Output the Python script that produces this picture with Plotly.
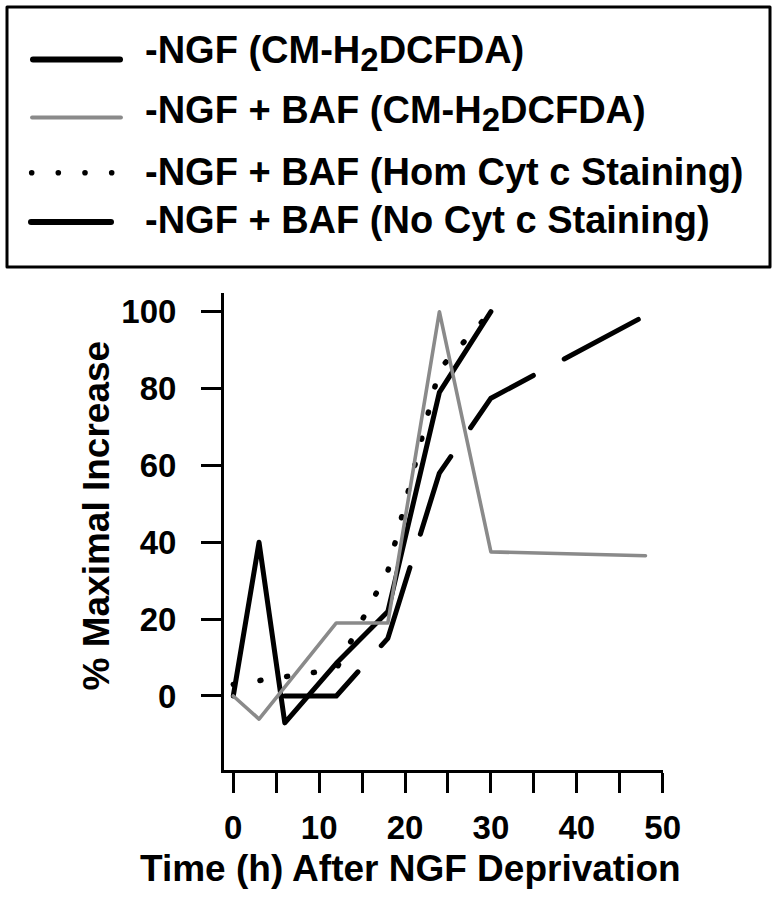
import plotly.graph_objects as go

# ---------------- data ----------------
ngf_time = [0, 3, 6, 12, 18, 24, 30]
ngf_ros = [0, 40, -7, 8.5, 22, 79, 100]

baf_time = [0, 3, 12, 18, 24, 30, 48]
baf_ros = [0, -6, 19, 19, 100, 37.5, 36.5]

hom_time = [0, 12, 18, 24, 30]
hom_cytc = [3, 7, 32.5, 85, 100]

nocyt_time = [6, 12, 18, 24, 30, 48]
nocyt_cytc = [0, 0, 15, 58, 77.5, 99]

SUB2 = "<sub><span style='font-size:33px'>2</span></sub>"
series_names = [
    "-NGF (CM-H" + SUB2 + "DCFDA)",
    "-NGF + BAF (CM-H" + SUB2 + "DCFDA)",
    "-NGF + BAF (Hom Cyt c Staining)",
    "-NGF + BAF (No Cyt c Staining)",
]

x_tick_vals = [0, 10, 20, 30, 40, 50]
x_tick_text = ["0", "10", "20", "30", "40", "50"]
x_minor_step = 5
y_tick_vals = [0, 20, 40, 60, 80, 100]
y_tick_text = ["0", "20", "40", "60", "80", "100"]

x_title = "Time (h) After NGF Deprivation"
y_title = "% Maximal Increase"

# ---------------- layout geometry ----------------
W, H = 777, 900
L, R, T, B = 224, 114, 293, 130
PW = W - L - R
PH = H - T - B
FONT = "Liberation Sans, Arial, Helvetica, sans-serif"
GRAY = "#8a8a8a"


def px(xp):
    return (xp - L) / PW


def py(yp):
    return (H - B - yp) / PH


fig = go.Figure()
fig.add_trace(go.Scatter(x=ngf_time, y=ngf_ros, mode="lines",
                         line=dict(color="black", width=5), name=series_names[0]))
fig.add_trace(go.Scatter(x=hom_time, y=hom_cytc, mode="lines",
                         line=dict(color="black", width=5.5, dash="1px,26px"), name=series_names[2]))
fig.add_trace(go.Scatter(x=nocyt_time, y=nocyt_cytc, mode="lines",
                         line=dict(color="black", width=5, dash="84px,35px"), name=series_names[3]))
fig.add_trace(go.Scatter(x=baf_time, y=baf_ros, mode="lines",
                         line=dict(color=GRAY, width=3.6), name=series_names[1]))

shapes = []
annotations = []

# legend box
shapes.append(dict(type="rect", xref="paper", yref="paper",
                   x0=px(7), x1=px(770), y0=py(7), y1=py(267),
                   line=dict(color="black", width=3), fillcolor="rgba(0,0,0,0)"))
# legend samples
shapes.append(dict(type="line", xref="paper", yref="paper",
                   x0=px(33), x1=px(120), y0=py(59.5), y1=py(59.5),
                   line=dict(color="black", width=6)))
shapes.append(dict(type="line", xref="paper", yref="paper",
                   x0=px(32), x1=px(121), y0=py(117.5), y1=py(117.5),
                   line=dict(color=GRAY, width=3.8)))
for cx in [31.7, 58.3, 85, 111.7]:
    shapes.append(dict(type="circle", xref="paper", yref="paper",
                       x0=px(cx - 2.8), x1=px(cx + 2.8), y0=py(172.7 - 2.8), y1=py(172.7 + 2.8),
                       line=dict(width=0), fillcolor="black"))
shapes.append(dict(type="line", xref="paper", yref="paper",
                   x0=px(31), x1=px(111), y0=py(222), y1=py(222),
                   line=dict(color="black", width=6)))

legend_rows_y = [53.3, 113.3, 171.7, 220]
for name, yy in zip(series_names, legend_rows_y):
    annotations.append(dict(text=name, xref="paper", yref="paper", x=px(143), y=py(yy),
                            xanchor="left", yanchor="middle", showarrow=False,
                            font=dict(family=FONT, size=38, color="black", weight=700)))

# axis titles
annotations.append(dict(text=x_title, xref="paper", yref="paper", x=px(410.5), y=py(868),
                        xanchor="center", yanchor="middle", showarrow=False,
                        font=dict(family=FONT, size=37, color="black", weight=700)))
annotations.append(dict(text=y_title, xref="paper", yref="paper", x=px(96), y=py(515.5),
                        xanchor="center", yanchor="middle", showarrow=False, textangle=-90,
                        font=dict(family=FONT, size=37, color="black", weight=700)))

axis_common = dict(showline=True, linecolor="black", linewidth=3, ticks="outside",
                   tickcolor="black", tickwidth=3, ticklen=20, showgrid=False,
                   zeroline=False,
                   tickfont=dict(family=FONT, size=33, color="black", weight=700))

fig.update_layout(
    width=W, height=H, autosize=False,
    margin=dict(l=L, r=R, t=T, b=B, pad=0),
    paper_bgcolor="white", plot_bgcolor="white",
    showlegend=False,
    xaxis=dict(range=[-1.08, 50.04], tickmode="array", tickvals=x_tick_vals,
               ticktext=x_tick_text, ticklabelstandoff=6,
               minor=dict(ticks="outside", tick0=0, dtick=x_minor_step, ticklen=20,
                          tickwidth=3, tickcolor="black", showgrid=False),
               **axis_common),
    yaxis=dict(range=[-19.26, 104.87], tickmode="array", tickvals=y_tick_vals,
               ticktext=y_tick_text, ticklabelstandoff=18, **axis_common),
    shapes=shapes,
    annotations=annotations,
)

post = """
document.body.style.margin = '0';
document.body.style.padding = '0';
var gd = document.getElementById('{plot_id}');
gd.querySelectorAll('path.js-line, .shapelayer path').forEach(function(p){
  p.style.strokeLinecap = 'round';
  p.style.strokeLinejoin = 'round';
});
"""

fig.write_html("out.html", config={"displayModeBar": False}, post_script=post)
